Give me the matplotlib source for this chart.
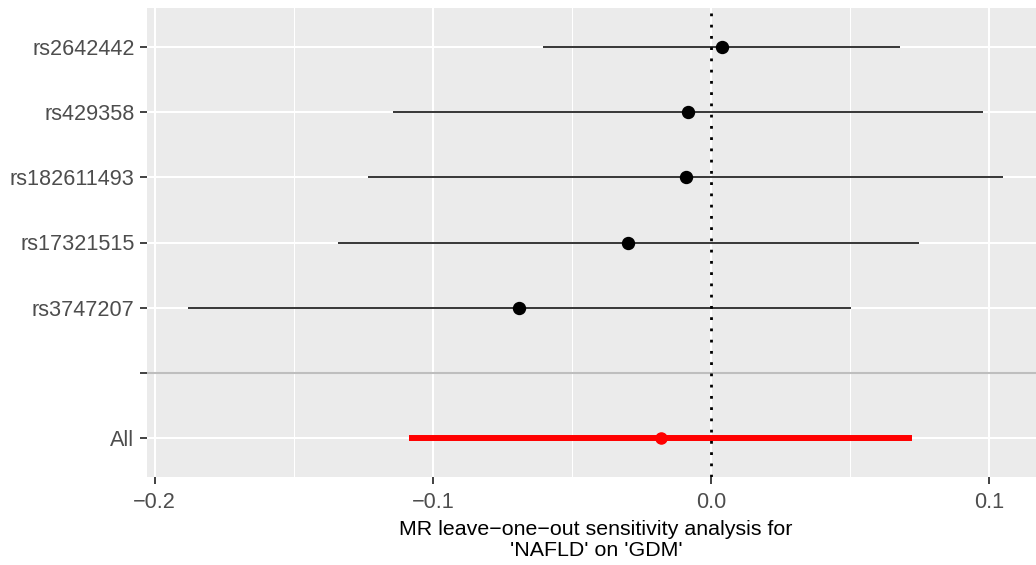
import numpy as np
import matplotlib
matplotlib.use("Agg")
import matplotlib.pyplot as plt
from matplotlib.ticker import MultipleLocator

# leave-one-out estimates (top to bottom)
snps = ["rs2642442", "rs429358", "rs182611493", "rs17321515", "rs3747207", "", "All"]
b = [0.0038, -0.0083, -0.0091, -0.0297, -0.0690, np.nan, -0.0181]
lo = [-0.0605, -0.1143, -0.1232, -0.1340, -0.1880, np.nan, -0.1084]
hi = [0.0680, 0.0978, 0.1048, 0.0748, 0.0502, np.nan, 0.0721]

xlabel = "MR leave\u2212one\u2212out sensitivity analysis for\n'NAFLD' on 'GDM'"

plt.rcParams['font.family'] = ['Liberation Sans', 'DejaVu Sans']

fig = plt.figure(figsize=(10.36, 5.65), dpi=100)
ax = fig.add_axes([147 / 1036, 1 - 477 / 565, 1 - 147 / 1036, (477 - 8) / 565])
ax.set_facecolor("#EBEBEB")
for s in ax.spines.values():
    s.set_visible(False)

ypos = np.arange(len(snps))
ax.set_ylim(len(snps) - 0.4, -0.6)
ax.set_xlim(-0.2027, 0.1168)

# grid like ggplot
ax.xaxis.set_major_locator(MultipleLocator(0.1))
ax.xaxis.set_minor_locator(MultipleLocator(0.05))
ax.grid(which="major", axis="both", color="white", lw=1.5)
ax.grid(which="minor", axis="x", color="white", lw=0.75)
ax.set_axisbelow(True)

ax.axhline(5, color="#BEBEBE", lw=1.5, zorder=1)
ax.axvline(0, color="black", lw=2.0, linestyle=(0, (1, 3.05)), dash_capstyle="butt", zorder=2)

for i in range(len(snps)):
    if np.isnan(b[i]):
        continue
    if snps[i] == "All":
        ax.plot([lo[i], hi[i]], [ypos[i], ypos[i]], color="red", lw=4.3, solid_capstyle="butt", zorder=3)
        ax.plot(b[i], ypos[i], "o", color="red", ms=8.0, zorder=4)
    else:
        ax.plot([lo[i], hi[i]], [ypos[i], ypos[i]], color="black", lw=1.1, solid_capstyle="butt", zorder=3)
        ax.plot(b[i], ypos[i], "o", color="black", ms=8.6, zorder=4)

ax.set_yticks(ypos)
ax.set_yticklabels(snps)
ax.set_xticks([-0.2, -0.1, 0.0, 0.1])
ax.set_xticklabels(["\u22120.2", "\u22120.1", "0.0", "0.1"])
ax.tick_params(axis="both", which="major", colors="#333333", labelcolor="#4D4D4D",
               labelsize=15.6, length=5, width=1.3, pad=4)
ax.tick_params(axis="x", which="major", pad=6)
ax.tick_params(axis="x", which="minor", length=0)

ax.set_xlabel(xlabel, fontsize=15.4, color="black", linespacing=1.1)
ax.xaxis.set_label_coords(0.505, -0.092)

fig.savefig("out.png", dpi=100)
